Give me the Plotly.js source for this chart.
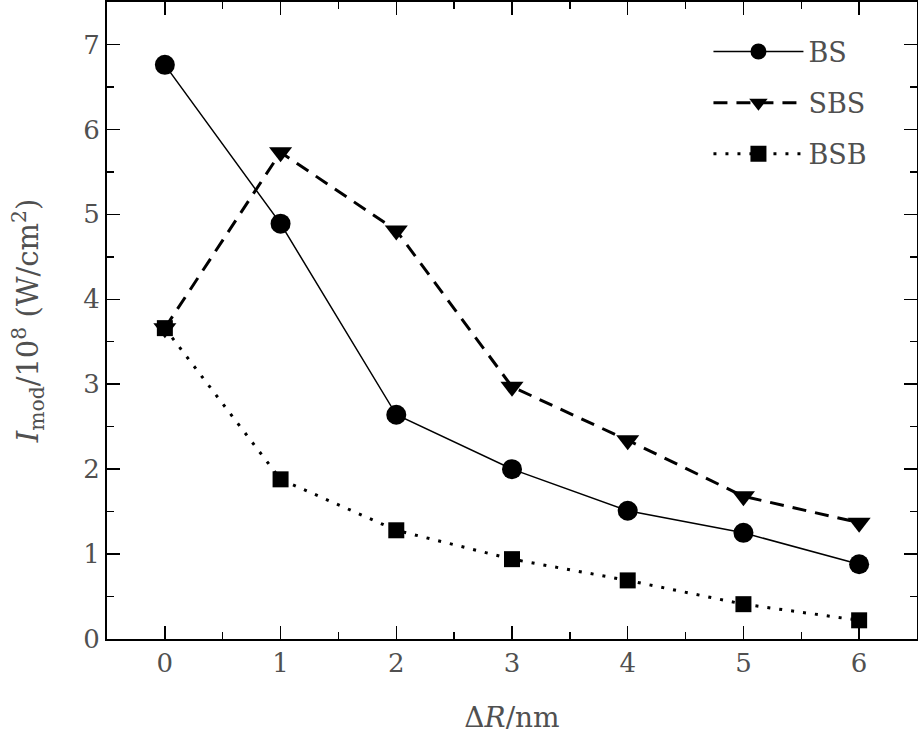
<!DOCTYPE html>
<html>
<head>
<meta charset="utf-8">
<script src="https://cdn.plot.ly/plotly-3.0.1.min.js"></script>
<style>html,body{margin:0;padding:0;background:#fff;}#chart{width:918px;height:744px;}</style>
</head>
<body>
<div id="chart"></div>
<script>
const deltaR = [0, 1, 2, 3, 4, 5, 6];
const bsValues = [6.76, 4.89, 2.64, 2.00, 1.51, 1.25, 0.88];
const sbsValues = [3.66, 5.73, 4.81, 2.97, 2.34, 1.68, 1.37];
const bsbValues = [3.66, 1.88, 1.28, 0.94, 0.69, 0.41, 0.22];
const seriesNames = ['BS', 'SBS', 'BSB'];
const xTickLabels = ['0', '1', '2', '3', '4', '5', '6'];

const fontFam = 'DejaVu Serif';
const txtCol = '#505050';

const traces = [
  {x: deltaR, y: bsValues, name: seriesNames[0], legendgroup: 'a', mode: 'lines+markers', type: 'scatter',
   line: {color: '#000', width: 1.5, dash: 'solid'},
   marker: {symbol: 'circle', size: 20, color: '#000'}},
  {x: deltaR, y: sbsValues, name: seriesNames[1], legendgroup: 'b', mode: 'lines+markers', type: 'scatter',
   line: {color: '#000', width: 3, dash: '14px,9px'},
   marker: {symbol: 'triangle-down', size: 20, color: '#000'}},
  {x: deltaR, y: bsbValues, name: seriesNames[2], legendgroup: 'c', mode: 'lines+markers', type: 'scatter',
   line: {color: '#000', width: 3, dash: '3px,9px'},
   marker: {symbol: 'square', size: 16, color: '#000'}}
];

const axisCommon = {
  showgrid: false, zeroline: false, showline: true, linecolor: '#000', linewidth: 2,
  mirror: 'ticks', ticks: 'inside', ticklen: 13, tickwidth: 1.5, tickcolor: '#000',
  tickfont: {family: fontFam, size: 26, color: txtCol},
  minor: {ticks: 'inside', ticklen: 7, tickwidth: 1.5, tickcolor: '#000', dtick: 0.5}
};

const layout = {
  width: 918, height: 744,
  margin: {l: 107, r: 1, t: 2, b: 105},
  paper_bgcolor: '#fff', plot_bgcolor: '#fff',
  showlegend: true,
  legend: {x: 0.945, y: 0.96, xanchor: 'right', yanchor: 'top', bgcolor: 'rgba(0,0,0,0)',
           font: {family: fontFam, size: 27, color: txtCol}, tracegroupgap: 13, itemwidth: 90},
  xaxis: Object.assign({}, axisCommon, {
    range: [-0.5, 6.5], tickmode: 'array', tickvals: deltaR, ticktext: xTickLabels,
    title: {text: 'Δ<i>R</i>/nm', font: {family: fontFam, size: 28, color: txtCol}, standoff: 30}
  }),
  yaxis: Object.assign({}, axisCommon, {
    range: [0, 7.5], dtick: 1, tick0: 0,
    title: {text: '<i>I</i><sub>mod</sub>/10<sup>8</sup> (W/cm<sup>2</sup>)', font: {family: fontFam, size: 29, color: txtCol}, standoff: 36}
  })
};

Plotly.newPlot('chart', traces, layout, {displayModeBar: false, staticPlot: true});
</script>
</body>
</html>
